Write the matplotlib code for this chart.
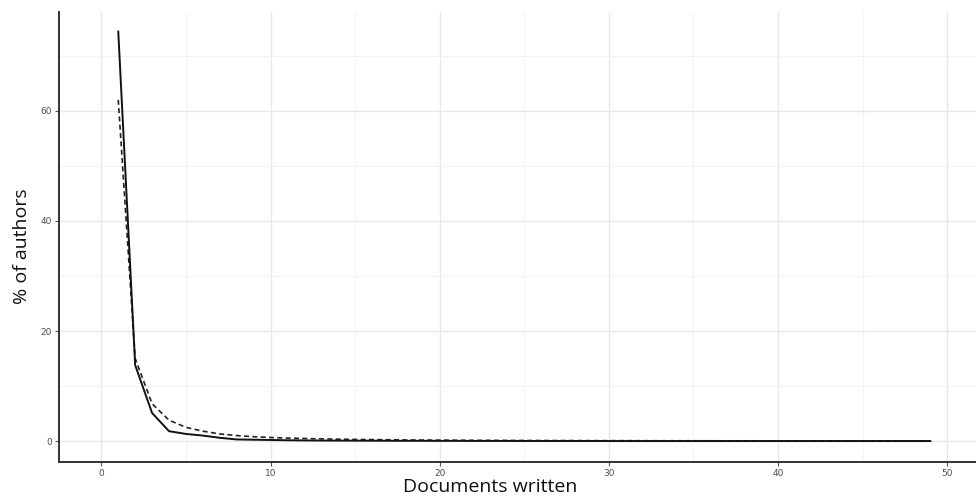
import matplotlib
matplotlib.use("Agg")
import matplotlib.pyplot as plt
import numpy as np

docs = list(range(1, 50))
observed = [74.4, 13.8, 5.1, 1.8, 1.3, 1.0, 0.6, 0.3, 0.25, 0.2,
            0.15, 0.12, 0.1, 0.09, 0.08, 0.07, 0.06, 0.05, 0.05, 0.04,
            0.04, 0.03, 0.03, 0.03, 0.02, 0.02, 0.02, 0.02, 0.02, 0.01,
            0.01, 0.01, 0.01, 0.01, 0.01, 0.01, 0.01, 0.01, 0.01, 0.01,
            0.01, 0.01, 0.01, 0.01, 0.01, 0.01, 0.01, 0.01, 0.01]
expected = [62.0, 15.0, 6.8, 3.8, 2.5, 1.8, 1.3, 1.0, 0.8, 0.65,
            0.55, 0.47, 0.4, 0.35, 0.3, 0.27, 0.24, 0.21, 0.19, 0.17,
            0.16, 0.14, 0.13, 0.12, 0.11, 0.1, 0.095, 0.09, 0.085, 0.08,
            0.075, 0.07, 0.065, 0.06, 0.058, 0.055, 0.052, 0.05, 0.048, 0.046,
            0.044, 0.042, 0.04, 0.038, 0.036, 0.035, 0.034, 0.033, 0.032]
xticks = [0, 10, 20, 30, 40, 50]
yticks = [0, 20, 40, 60]

fig = plt.figure(figsize=(9.76, 4.97), dpi=100)
ax = fig.add_axes([0.0605, 0.0704, 0.9395, 0.906])

ax.plot(docs, expected, color="#222222", lw=1.2, ls=(0, (3, 2)))
ax.plot(docs, observed, color="#111111", lw=1.4)

ax.set_xlim(-2.5, 51.7)
ax.set_ylim(-3.8, 78)
ax.set_xticks(xticks)
ax.set_yticks(yticks)
ax.set_xticks([5, 15, 25, 35, 45], minor=True)
ax.set_yticks([10, 30, 50, 70], minor=True)
ax.grid(True, which="major", color="#e8e8e8", lw=1.0)
ax.grid(True, which="minor", color="#f3f3f3", lw=0.8)
ax.set_axisbelow(True)

for s in ["top", "right"]:
    ax.spines[s].set_visible(False)
for s in ["left", "bottom"]:
    ax.spines[s].set_color("#333333")
    ax.spines[s].set_linewidth(1.4)

ax.tick_params(which="major", length=3, width=0.8, color="#555555",
               labelsize=6.5, labelcolor="#4d4d4d", pad=2)
ax.tick_params(which="minor", length=0)

lab_font = ["Open Sans", "DejaVu Sans"]
fig.text(490 / 976, 1 - 495.5 / 497, "Documents written", family=lab_font,
         fontsize=14, color="#111111", ha="center", va="bottom")
fig.text(22 / 976, 1 - 246 / 497, "% of authors", family=lab_font,
         fontsize=14, color="#111111", ha="center", va="center", rotation=90)

fig.savefig("out.png", dpi=100)
